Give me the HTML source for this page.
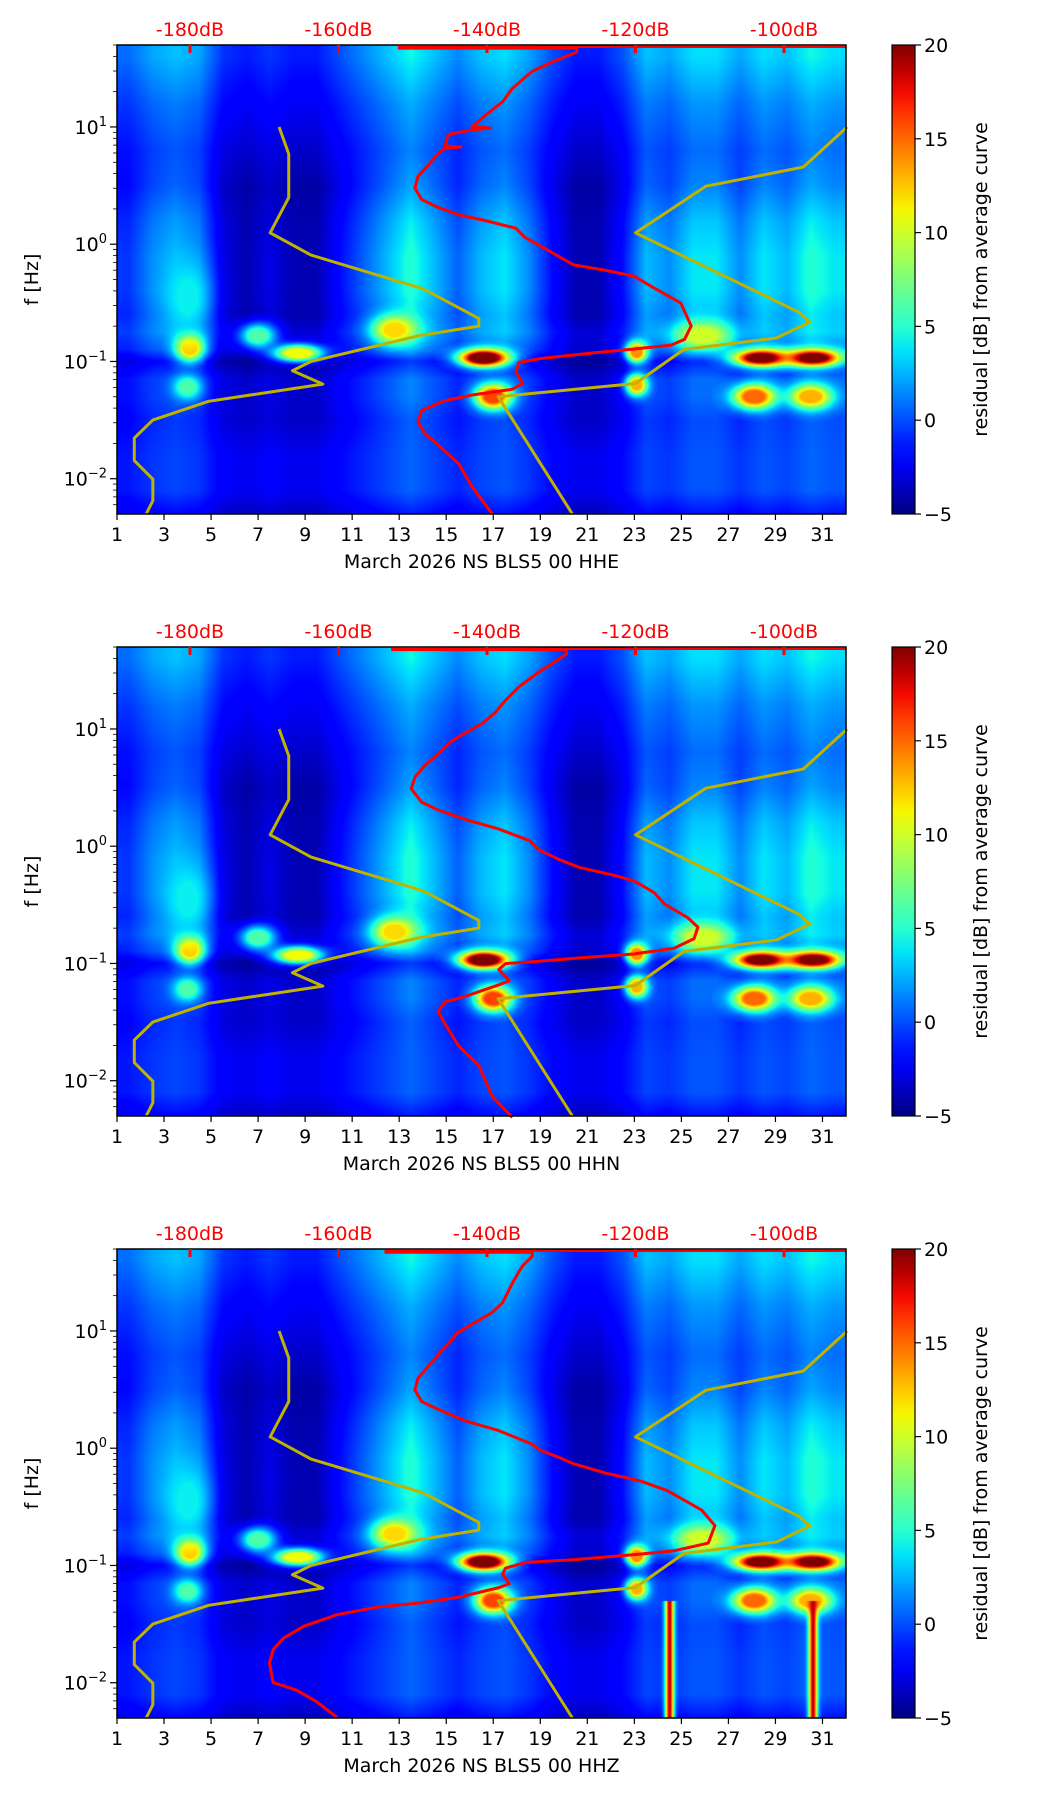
<!DOCTYPE html>
<html><head><meta charset="utf-8"><title>Residual spectrograms</title>
<style>
html,body{margin:0;padding:0;background:#fff;}
body{width:1052px;height:1806px;position:relative;overflow:hidden;font-family:"DejaVu Sans","Liberation Sans",sans-serif;}
canvas{position:absolute;}
svg{position:absolute;left:0;top:0;}
</style></head>
<body>
<canvas id="c0" width="729" height="469" style="left:117px;top:45px"></canvas>
<canvas id="c1" width="729" height="469" style="left:117px;top:647px"></canvas>
<canvas id="c2" width="729" height="469" style="left:117px;top:1249px"></canvas>
<svg id="ov" width="1052" height="1806" xmlns="http://www.w3.org/2000/svg"></svg>
<script>
// ---- data ----
const channels = ["HHE","HHN","HHZ"];
const dayTicks = [1,3,5,7,9,11,13,15,17,19,21,23,25,27,29,31];
const dbTicks = [-180,-160,-140,-120,-100];
const cbTicks = [-5,0,5,10,15,20];
const dayAct = [0.4,0.6,0.7,0.6,0.2,0.1,0.2,0.1,0.1,0.3,0.5,0.7,0.9,0.7,0.5,0.7,0.8,0.6,0.3,0.1,0.1,0.3,0.7,0.6,0.8,0.8,0.6,0.8,0.7,0.9,0.8];
const rowLogF = [1.7,1.6,1.2,0.8,0.5,0.2,-0.1,-0.4,-0.6,-0.75,-0.9,-1.0,-1.15,-1.3,-1.5,-1.8,-2.1,-2.31];
const rowBase = [-2,-2,-3,-4,-5,-5,-5,-5,-5,-4,-4,-5,-4,-4,-4,-3,-3,-4];
const rowGain = [7,7,6,6,8,10,11,11,10,9,7,5,6,6,5,4,4,3];
const blobDay  = [16.6,28.4,30.6,4.1,8.7,23.1,12.8,25.9,17.0,28.1,30.5,23.1,4.0,7.0,4.0];
const blobLogF = [-0.97,-0.97,-0.97,-0.88,-0.93,-0.92,-0.73,-0.78,-1.30,-1.30,-1.30,-1.20,-1.22,-0.78,-0.45];
const blobPeak = [22,20,20,13,11,14,12,10,16,15,13,13,6,6,4];
const blobWd   = [0.7,0.8,0.8,0.4,0.7,0.3,0.6,0.8,0.5,0.6,0.6,0.3,0.4,0.5,0.6];
const blobWf   = [0.05,0.05,0.05,0.08,0.05,0.06,0.08,0.08,0.07,0.07,0.07,0.06,0.07,0.07,0.2];
const hhzStripeDay = [24.5,30.6];
const hhzStripePeak = [19,19];
// NLNM / NHNM (dB vs log10 f)
const nlnmLogF = [1.0,0.770,0.398,0.097,-0.093,-0.380,-0.633,-0.699,-0.778,-1.0,-1.079,-1.193,-1.340,-1.500,-1.653,-1.845,-2.004,-2.188,-2.301];
const nlnmDb   = [-168.0,-166.7,-166.7,-169.2,-163.7,-148.6,-141.1,-141.1,-149.0,-163.7,-166.2,-162.1,-177.5,-185.0,-187.5,-187.5,-185.0,-185.0,-185.9];
const nhnmLogF = [1.0,0.658,0.495,0.097,-0.580,-0.663,-0.799,-0.898,-1.188,-1.301,-2.301];
const nhnmDb   = [-91.5,-97.4,-110.5,-120.0,-98.0,-96.5,-101.0,-113.5,-120.0,-138.5,-128.5];
// average PSD curves per channel
const psdDbE = [-152.0,-127.9,-127.9,-131.1,-133.9,-136.6,-137.9,-140.2,-142.0,-139.5,-142.0,-145.2,-145.7,-143.5,-145.7,-146.6,-147.9,-149.3,-149.7,-148.8,-146.6,-143.8,-140.2,-136.1,-134.8,-132.9,-131.1,-128.4,-123.9,-120.2,-118.0,-113.9,-112.5,-113.4,-115.2,-120.2,-125.7,-132.9,-135.7,-136.1,-135.2,-136.6,-142.0,-145.7,-148.8,-149.3,-148.4,-146.6,-143.8,-142.0,-139.3];
const psdLfE = [1.672,1.672,1.639,1.557,1.475,1.328,1.214,1.100,1.002,0.990,0.975,0.936,0.838,0.830,0.815,0.773,0.675,0.577,0.479,0.381,0.315,0.250,0.201,0.136,0.054,-0.012,-0.077,-0.175,-0.224,-0.273,-0.355,-0.502,-0.698,-0.812,-0.861,-0.894,-0.927,-0.976,-1.008,-1.090,-1.188,-1.237,-1.286,-1.335,-1.417,-1.515,-1.613,-1.711,-1.874,-2.070,-2.299];
const psdDbN = [-152.9,-129.3,-129.3,-132.9,-135.7,-137.5,-138.8,-140.6,-142.5,-144.7,-146.6,-148.4,-149.7,-150.2,-148.8,-146.6,-142.9,-138.4,-134.3,-132.9,-130.2,-127.5,-122.9,-120.2,-117.5,-116.1,-113.0,-111.6,-112.1,-114.8,-120.2,-127.5,-133.8,-137.5,-138.4,-137.0,-138.4,-142.9,-145.7,-146.6,-145.7,-143.8,-141.1,-139.3,-136.6];
const psdLfN = [1.677,1.677,1.638,1.490,1.359,1.245,1.146,1.048,0.982,0.900,0.786,0.687,0.589,0.490,0.376,0.310,0.228,0.146,0.048,-0.034,-0.116,-0.182,-0.247,-0.296,-0.395,-0.493,-0.608,-0.690,-0.788,-0.870,-0.919,-0.952,-0.985,-1.001,-1.051,-1.149,-1.182,-1.280,-1.329,-1.411,-1.510,-1.706,-1.870,-2.133,-2.313];
const psdDbZ = [-153.8,-133.9,-133.9,-135.2,-135.7,-136.6,-137.9,-139.3,-140.6,-142.0,-143.8,-145.2,-146.6,-147.5,-148.4,-149.3,-149.7,-148.8,-146.6,-142.9,-138.4,-133.9,-132.9,-130.2,-128.4,-123.9,-119.3,-115.7,-111.1,-109.3,-110.2,-114.8,-120.2,-128.4,-134.8,-137.5,-137.9,-137.0,-138.4,-143.8,-149.3,-154.7,-160.2,-164.7,-167.4,-168.8,-169.3,-168.8,-165.6,-162.9,-160.2];
const psdLfZ = [1.671,1.671,1.638,1.555,1.505,1.406,1.241,1.158,1.109,1.059,0.993,0.894,0.795,0.729,0.662,0.596,0.497,0.398,0.332,0.233,0.150,0.034,-0.015,-0.081,-0.131,-0.214,-0.280,-0.362,-0.527,-0.660,-0.809,-0.875,-0.908,-0.951,-0.974,-1.023,-1.073,-1.156,-1.189,-1.271,-1.321,-1.354,-1.420,-1.519,-1.619,-1.718,-1.833,-1.999,-2.065,-2.164,-2.296];
const psdDb = [psdDbE,psdDbN,psdDbZ];
const psdLf = [psdLfE,psdLfN,psdLfZ];

// ---- geometry ----
const AX_L=117, AX_R=846, AX_H=469;
const panelTops=[45,647,1249];
const DAY0=1, DAY1=32, LF0=-2.301, LF1=1.699, DB0=-189.83, DB1=-91.65, V0=-5, V1=20;
function xDay(d){return AX_L+(d-DAY0)/(DAY1-DAY0)*(AX_R-AX_L);}
function xDb(v){return AX_L+(v-DB0)/(DB1-DB0)*(AX_R-AX_L);}
function yLf(top,lf){return top+(LF1-lf)/(LF1-LF0)*AX_H;}

function jet(t){
  t=Math.max(0,Math.min(1,t));
  function pw(pts){for(let i=1;i<pts.length;i++){if(t<=pts[i][0]){const a=pts[i-1],b=pts[i];return a[1]+(b[1]-a[1])*(t-a[0])/(b[0]-a[0]);}}return pts[pts.length-1][1];}
  return [pw([[0,0],[0.35,0],[0.66,1],[0.89,1],[1,0.5]]),pw([[0,0],[0.125,0],[0.375,1],[0.64,1],[0.91,0],[1,0]]),pw([[0,0.5],[0.11,1],[0.34,1],[0.65,0],[1,0]])];
}
function actAt(d){
  const p=d-1.5; if(p<=0)return dayAct[0]; if(p>=dayAct.length-1)return dayAct[dayAct.length-1];
  const i=Math.floor(p),f=p-i; return dayAct[i]*(1-f)+dayAct[i+1]*f;
}
function rowVal(lf,act){
  for(let i=1;i<rowLogF.length;i++){
    if(lf>=rowLogF[i]){const a=rowLogF[i-1],b=rowLogF[i];const f=(a-lf)/(a-b);
      const va=rowBase[i-1]+rowGain[i-1]*act, vb=rowBase[i]+rowGain[i]*act; return va*(1-f)+vb*f;}
  }
  return rowBase[rowBase.length-1]+rowGain[rowGain.length-1]*act;
}
function drawSpec(pi){
  const cv=document.getElementById('c'+pi), ctx=cv.getContext('2d');
  const W=cv.width,H=cv.height, img=ctx.createImageData(W,H);
  for(let px=0;px<W;px++){
    const d=DAY0+(px+0.5)/W*(DAY1-DAY0), act=actAt(d);
    for(let py=0;py<H;py++){
      const lf=LF1-(py+0.5)/H*(LF1-LF0);
      let v=rowVal(lf,act);
      for(let b=0;b<blobDay.length;b++){
        const dd=(d-blobDay[b])/blobWd[b], df=(lf-blobLogF[b])/blobWf[b];
        const g=Math.exp(-0.5*(dd*dd+df*df)); if(g>0.01) v+= (blobPeak[b]-v)*Math.min(1,g*1.3);
      }
      if(pi===2 && lf<-1.3){
        for(let s=0;s<hhzStripeDay.length;s++){
          const dd=(d-hhzStripeDay[s])/0.13; const g=Math.exp(-0.5*dd*dd); v+=(hhzStripePeak[s]-v)*g;
        }
      }
      const c=jet((v-V0)/(V1-V0)), k=(py*W+px)*4;
      img.data[k]=c[0]*255;img.data[k+1]=c[1]*255;img.data[k+2]=c[2]*255;img.data[k+3]=255;
    }
  }
  ctx.putImageData(img,0,0);
}
[0,1,2].forEach(drawSpec);

const NS="http://www.w3.org/2000/svg", ov=document.getElementById('ov');
function mk(tag,attrs,parent){const e=document.createElementNS(NS,tag);for(const k in attrs)e.setAttribute(k,attrs[k]);(parent||ov).appendChild(e);return e;}
function txt(s,attrs,parent){const e=mk('text',attrs,parent);e.textContent=s;return e;}

const defs=mk('defs',{});
const grad=mk('linearGradient',{id:'jetg',x1:0,y1:1,x2:0,y2:0},defs);
for(let i=0;i<=20;i++){const c=jet(i/20);mk('stop',{offset:(i/20),'stop-color':'rgb('+Math.round(c[0]*255)+','+Math.round(c[1]*255)+','+Math.round(c[2]*255)+')'},grad);}

panelTops.forEach((top,pi)=>{
  const g=mk('g',{});
  
  
  const bot=top+AX_H;
  const lo=mk('polyline',{points:nlnmLogF.map((lf,i)=>xDb(nlnmDb[i])+','+yLf(top,lf)).join(' '),fill:'none',stroke:'#bfb300','stroke-width':3,'stroke-linejoin':'round'},g);
  
  
  const hi=mk('polyline',{points:nhnmLogF.map((lf,i)=>xDb(nhnmDb[i])+','+yLf(top,lf)).join(' '),fill:'none',stroke:'#bfb300','stroke-width':3,'stroke-linejoin':'round'},g);
  
  
  const tl=mk('line',{x1:xDb(psdDb[pi][0]),x2:AX_R,y1:top+2,y2:top+2,stroke:'#ff0000','stroke-width':2},g);
  
  
  const red=mk('polyline',{points:psdLf[pi].map((lf,i)=>xDb(psdDb[pi][i])+','+yLf(top,lf)).join(' '),fill:'none',stroke:'#ff0000','stroke-width':3,'stroke-linejoin':'round'},g);
  
  
  const fr=mk('rect',{x:AX_L,y:top,width:AX_R-AX_L,height:AX_H,fill:'none',stroke:'#000','stroke-width':1.5},g);
  
  
  dayTicks.forEach(d=>{
    const x=xDay(d);
    mk('line',{x1:x,x2:x,y1:bot,y2:bot+6,stroke:'#000','stroke-width':1.2},g);
    const t=txt(String(d),{x:x,y:bot+27,'text-anchor':'middle','font-size':19,fill:'#000'},g);
    
    
  });
  const xl=txt('March 2026 NS BLS5 00 '+channels[pi],{x:(AX_L+AX_R)/2,y:bot+54,'text-anchor':'middle','font-size':19,fill:'#000'},g);
  
  
  for(let k=-3;k<=1;k++){
    for(let m=1;m<=9;m++){
      const lf=k+Math.log10(m); if(lf<LF0-1e-6||lf>LF1+1e-6)continue;
      const y=yLf(top,lf);
      mk('line',{x1:AX_L-(m===1?7:4),x2:AX_L,y1:y,y2:y,stroke:'#000','stroke-width':m===1?1.2:0.8},g);
      if(m===1){
        const t=mk('text',{x:AX_L-10,y:y+7,'text-anchor':'end','font-size':19,fill:'#000'},g);
        
        
        const a=document.createElementNS(NS,'tspan');a.textContent='10';t.appendChild(a);
        const b=document.createElementNS(NS,'tspan');b.setAttribute('dy','-8');b.setAttribute('font-size','13');b.textContent=(k<0?'\u2212':'')+Math.abs(k);t.appendChild(b);
      }
    }
  }
  const yl=txt('f [Hz]',{x:0,y:0,transform:'translate(38,'+(top+AX_H/2)+') rotate(-90)','text-anchor':'middle','font-size':19,fill:'#000'},g);
  
  
  dbTicks.forEach(v=>{
    const x=xDb(v);
    mk('line',{x1:x,x2:x,y1:top,y2:top+8,stroke:'#ff0000','stroke-width':3},g);
    const t=txt(v+'dB',{x:x,y:top-9,'text-anchor':'middle','font-size':19,fill:'#ff0000'},g);
    
    
  });
  const cb=mk('rect',{x:892,y:top,width:23,height:AX_H,fill:'url(#jetg)',stroke:'#000','stroke-width':1.2},g);
  
  
  cbTicks.forEach(v=>{
    const y=top+(V1-v)/(V1-V0)*AX_H;
    mk('line',{x1:915,x2:921,y1:y,y2:y,stroke:'#000','stroke-width':1.2},g);
    const t=txt(v<0?'\u2212'+Math.abs(v):String(v),{x:924,y:y+7,'font-size':19,fill:'#000'},g);
    
    
  });
  const cl=txt('residual [dB] from average curve',{x:0,y:0,transform:'translate(987,'+(top+AX_H/2)+') rotate(-90)','text-anchor':'middle','font-size':19,fill:'#000'},g);
  
  
});
</script>
</body></html>
